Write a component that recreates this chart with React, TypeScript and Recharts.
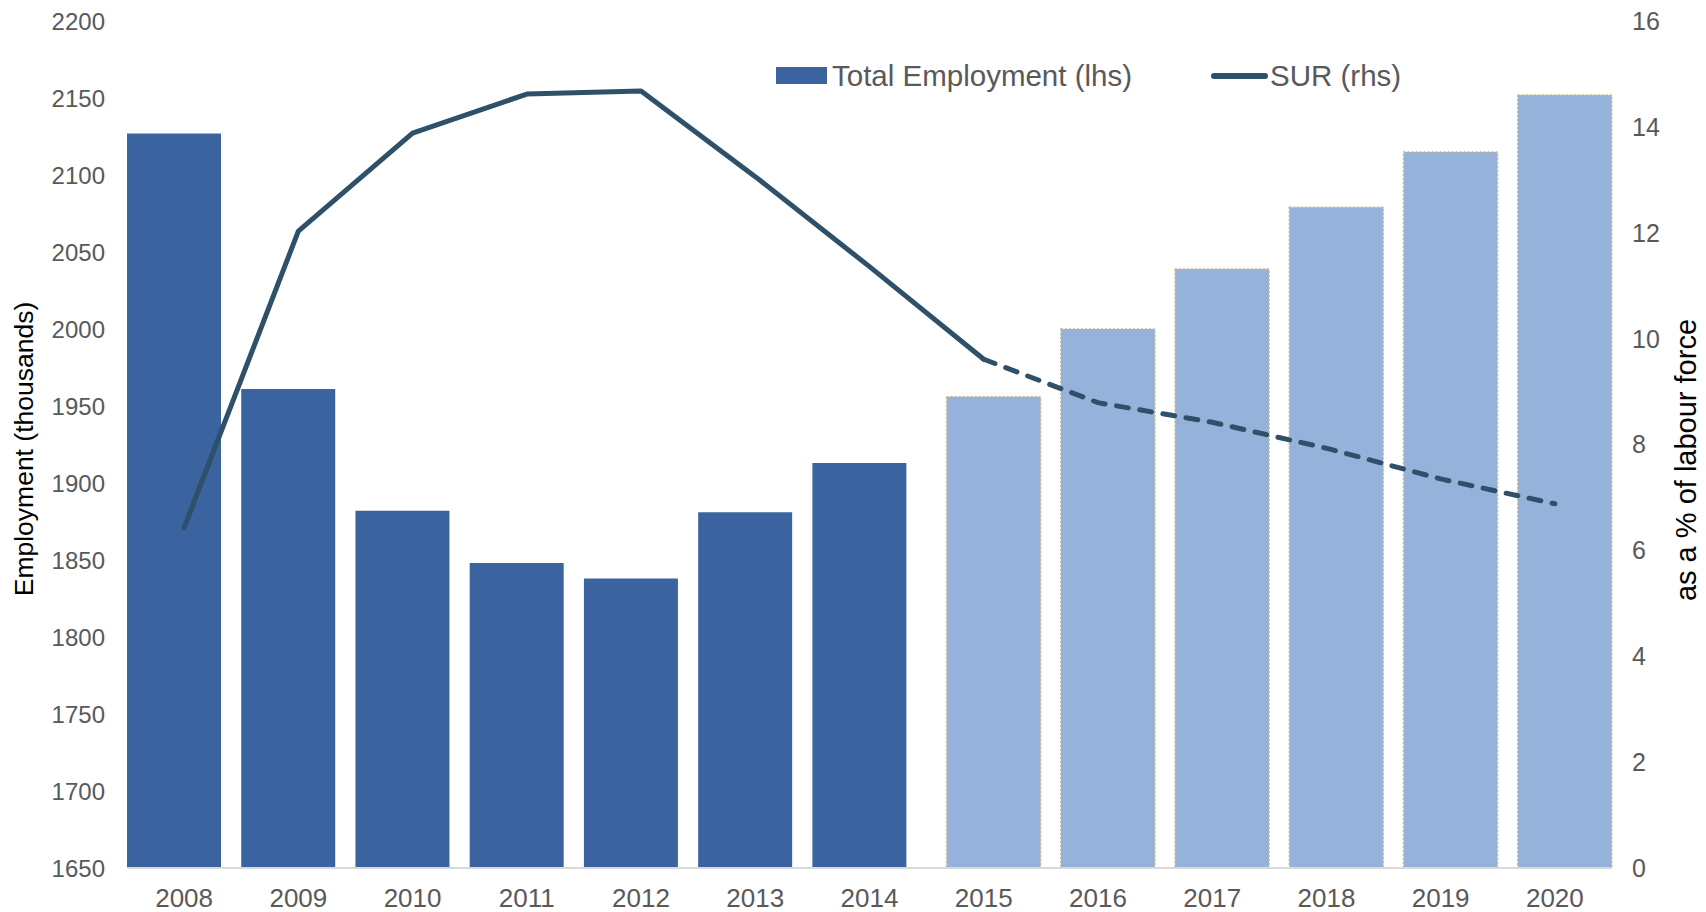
import React from 'react';
import { ComposedChart, Bar, Line, XAxis, YAxis, Label } from 'recharts';

const years = ['2008', '2009', '2010', '2011', '2012', '2013', '2014', '2015', '2016', '2017', '2018', '2019', '2020'];
const employmentActual = [2127, 1961, 1882, 1848, 1838, 1881, 1913, null, null, null, null, null, null];
const employmentForecast = [null, null, null, null, null, null, null, 1956, 2000, 2039, 2079, 2115, 2152];
const surActual = [6.43, 12.03, 13.88, 14.62, 14.68, 13.06, 11.36, 9.61, null, null, null, null, null];
const surForecast = [null, null, null, null, null, null, null, 9.61, 8.79, 8.42, 7.93, 7.35, 6.88];
const leftTicks = [1650, 1700, 1750, 1800, 1850, 1900, 1950, 2000, 2050, 2100, 2150, 2200];
const rightTicks = [0, 2, 4, 6, 8, 10, 12, 14, 16];

const data = years.map((y, i) => ({
  year: y,
  empActual: employmentActual[i],
  empForecast: employmentForecast[i],
  surActual: surActual[i],
  surForecast: surForecast[i],
}));

const FONT = '"Liberation Sans", Arial, sans-serif';
const DARK = '#3A63A0';
const LIGHT = '#95B2DA';
const LINE = '#2E5068';
const TICK = '#595959';

const LegendBox = () => (
  <div style={{ position: 'absolute', left: 776, top: 58, width: 640, height: 36, fontFamily: FONT, fontSize: 29.5, color: TICK }}>
    <div style={{ position: 'absolute', left: 0, top: 9, width: 51, height: 17, background: DARK }} />
    <div style={{ position: 'absolute', left: 56, top: 0, lineHeight: '36px', whiteSpace: 'nowrap' }}>Total Employment (lhs)</div>
    <div style={{ position: 'absolute', left: 435, top: 15, width: 57, height: 6, borderRadius: 3, background: LINE }} />
    <div style={{ position: 'absolute', left: 494, top: 0, lineHeight: '36px', whiteSpace: 'nowrap' }}>SUR (rhs)</div>
  </div>
);

export default function App() {
  return (
    <div style={{ position: 'absolute', left: 0, top: 0, width: 1706, height: 912, background: '#fff' }}>
      <ComposedChart
        width={1706}
        height={912}
        data={data}
        margin={{ top: 21, right: 0, bottom: 0, left: 0 }}
        barCategoryGap={0}
        barGap={-74}
        style={{ fontFamily: FONT }}
      >
        <XAxis
          dataKey="year"
          axisLine={{ stroke: '#D9D9D9', strokeWidth: 2 }}
          tickLine={false}
          tickMargin={15}
          height={44}
          tick={{ fill: TICK, fontSize: 26, fontFamily: FONT }}
          interval={0}
        />
        <YAxis
          yAxisId="left"
          orientation="left"
          width={127}
          domain={[1650, 2200]}
          ticks={leftTicks}
          axisLine={false}
          tickLine={false}
          tickMargin={16}
          tick={{ fill: TICK, fontSize: 24, fontFamily: FONT }}
          interval={0}
        >
          <Label
            value="Employment (thousands)"
            content={() => {
              const cy = 449;
              return (
                <text x={24} y={cy} transform={`rotate(-90, 24, ${cy})`} textAnchor="middle" dominantBaseline="central" fill="#000" fontSize={26.5} fontFamily={FONT}>
                  Employment (thousands)
                </text>
              );
            }}
          />
        </YAxis>
        <YAxis
          yAxisId="right"
          orientation="right"
          width={94}
          domain={[0, 16]}
          ticks={rightTicks}
          axisLine={false}
          tickLine={false}
          tickMargin={14}
          tick={{ fill: TICK, fontSize: 25, fontFamily: FONT }}
          interval={0}
        >
          <Label
            value="as a % of labour force"
            content={() => {
              const cy = 460;
              return (
                <text x={1686} y={cy} transform={`rotate(-90, 1686, ${cy})`} textAnchor="middle" dominantBaseline="central" fill="#000" fontSize={29} fontFamily={FONT}>
                  as a % of labour force
                </text>
              );
            }}
          />
        </YAxis>
        <Bar yAxisId="left" dataKey="empActual" name="Total Employment (lhs)" fill={DARK} barSize={94} isAnimationActive={false} />
        <Bar
          yAxisId="left"
          dataKey="empForecast"
          name="Total Employment forecast"
          fill={LIGHT}
          stroke="#C9B68C"
          strokeWidth={1.5}
          strokeDasharray="2 2"
          barSize={94}
          isAnimationActive={false}
        />
        <Line
          yAxisId="right"
          dataKey="surActual"
          name="SUR (rhs)"
          stroke={LINE}
          strokeWidth={5}
          dot={false}
          activeDot={false}
          connectNulls={false}
          strokeLinecap="round"
          strokeLinejoin="round"
          isAnimationActive={false}
        />
        <Line
          yAxisId="right"
          dataKey="surForecast"
          name="SUR forecast"
          stroke={LINE}
          strokeWidth={5}
          strokeDasharray="12 11.5"
          strokeLinecap="round"
          dot={false}
          activeDot={false}
          connectNulls={false}
          isAnimationActive={false}
        />
      </ComposedChart>
      <LegendBox />
    </div>
  );
}
